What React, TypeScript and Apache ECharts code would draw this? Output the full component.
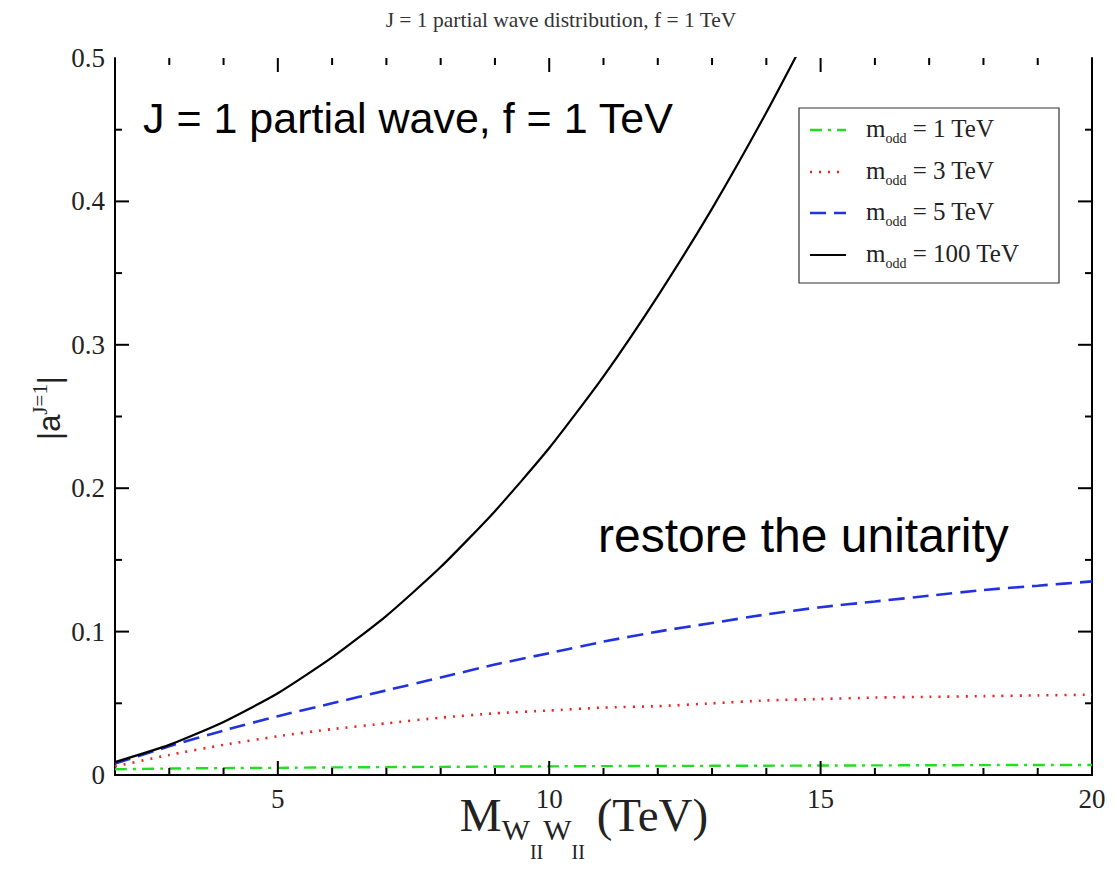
import React, { useEffect, useRef } from "react";
import * as echarts from "echarts";

const xValues = [2, 3, 4, 5, 6, 7, 8, 9, 10, 11, 12, 13, 14, 15, 16, 17, 18, 19, 20];
const m1Values = [0.004, 0.0045, 0.0048, 0.005, 0.0053, 0.0055, 0.0057, 0.0059, 0.006, 0.0062, 0.0063, 0.0064, 0.0065, 0.0066, 0.0067, 0.0068, 0.0069, 0.007, 0.007];
const m3Values = [0.006, 0.014, 0.021, 0.027, 0.032, 0.036, 0.04, 0.043, 0.045, 0.047, 0.048, 0.05, 0.052, 0.053, 0.054, 0.0545, 0.055, 0.0555, 0.056];
const m5Values = [0.008, 0.02, 0.031, 0.041, 0.05, 0.059, 0.068, 0.077, 0.085, 0.093, 0.1, 0.106, 0.112, 0.117, 0.121, 0.125, 0.129, 0.132, 0.135];
const m100X = [2, 3, 4, 5, 6, 7, 8, 9, 10, 11, 12, 13, 14, 15];
const m100Values = [0.009, 0.021, 0.037, 0.057, 0.082, 0.111, 0.145, 0.184, 0.228, 0.278, 0.334, 0.395, 0.462, 0.534];

const xTicks = [3, 4, 5, 6, 7, 8, 9, 10, 11, 12, 13, 14, 15, 16, 17, 18, 19];
const xMajorTicks = [5, 10, 15, 20];
const yTicks = [0.05, 0.1, 0.15, 0.2, 0.25, 0.3, 0.35, 0.4, 0.45];
const yMajorTicks = [0, 0.1, 0.2, 0.3, 0.4, 0.5];

const legendNames = ["1 TeV", "3 TeV", "5 TeV", "100 TeV"];
const titleText = "J = 1 partial wave distribution, f = 1 TeV";
const note1 = "J = 1 partial wave, f = 1 TeV";
const note2 = "restore the unitarity";

const SERIF = "'Liberation Serif', 'DejaVu Serif', serif";
const SANS = "'Liberation Sans', Arial, sans-serif";

const seriesStyles = [
  { color: "#22dd22", dash: [12, 6, 3, 6], width: 2.4 },
  { color: "#ee2222", dash: [2, 7], width: 2.6 },
  { color: "#2233dd", dash: [16, 8], width: 2.6 },
  { color: "#000000", dash: "solid" as any, width: 2.2 },
];

function zip(xs: number[], ys: number[]) {
  return ys.map((y, i) => [xs[i], y]);
}

function isMajor(list: number[], v: number) {
  return list.some((m) => Math.abs(m - v) < 1e-9);
}

export default function App() {
  const ref = useRef<HTMLDivElement>(null);
  useEffect(() => {
    document.body.style.margin = "0";
    const chart = echarts.init(ref.current!, null, { renderer: "svg" });
    const dataSets = [zip(xValues, m1Values), zip(xValues, m3Values), zip(xValues, m5Values), zip(m100X, m100Values)];
    const left = 115, top = 58, right = 1092, bottom = 775;

    const baseX = {
      type: "value" as const,
      min: 2,
      max: 20,
      interval: 1,
      splitLine: { show: false },
      axisTick: { show: false },
    };
    const baseY = {
      type: "value" as const,
      min: 0,
      max: 0.5,
      interval: 0.1,
      splitLine: { show: false },
      axisTick: { show: false },
      minorTick: { show: false },
    };

    const legendRows = [130, 172, 213, 255];
    const legendGraphics: any[] = [
      {
        type: "rect",
        shape: { x: 799, y: 108, width: 260, height: 175 },
        style: { fill: "#fff", stroke: "#333", lineWidth: 1.2 },
        z: 100,
      },
    ];
    legendRows.forEach((y, i) => {
      legendGraphics.push({
        type: "line",
        shape: { x1: 810, y1: y, x2: 846, y2: y },
        style: {
          stroke: seriesStyles[i].color,
          lineWidth: seriesStyles[i].width,
          lineDash: seriesStyles[i].dash === "solid" ? null : seriesStyles[i].dash,
        },
        z: 101,
      });
      legendGraphics.push({
        type: "text",
        x: 866,
        y: y - 14,
        z: 101,
        style: {
          text: `{m|m}{s|odd}{t| = ${legendNames[i]}}`,
          rich: {
            m: { fontFamily: SERIF, fontSize: 25, lineHeight: 25, verticalAlign: "top", fill: "#222" },
            s: { fontFamily: SERIF, fontSize: 14, lineHeight: 14, padding: [15, 0, 0, 0], verticalAlign: "top", fill: "#222" },
            t: { fontFamily: SERIF, fontSize: 25, lineHeight: 25, verticalAlign: "top", fill: "#222" },
          },
        },
      });
    });

    const textGraphics: any[] = [
      {
        type: "text",
        x: 143,
        y: 96,
        style: { text: note1, fontFamily: SANS, fontSize: 43, fill: "#000" },
      },
      {
        type: "text",
        x: 598,
        y: 511,
        style: { text: note2, fontFamily: SANS, fontSize: 48, fill: "#000" },
      },
      {
        type: "text",
        x: 47,
        y: 408,
        rotation: Math.PI / 2,
        style: {
          text: "{a||a}{s|J=1}{b||}",
          align: "center",
          verticalAlign: "middle",
          rich: {
            a: { fontFamily: SANS, fontSize: 31, lineHeight: 36, verticalAlign: "bottom", fill: "#222" },
            s: { fontFamily: SERIF, fontSize: 21, lineHeight: 36, verticalAlign: "top", fill: "#222" },
            b: { fontFamily: SANS, fontSize: 31, lineHeight: 36, verticalAlign: "bottom", fill: "#222" },
          },
        },
      },
      {
        type: "text",
        x: 584,
        y: 791,
        style: {
          text: "{m|M}{w|W}{i|II}{w|W}{i|II}{m| (TeV)}",
          align: "center",
          rich: {
            m: { fontFamily: SERIF, fontSize: 47, lineHeight: 46, verticalAlign: "top", fill: "#222" },
            w: { fontFamily: SERIF, fontSize: 30, lineHeight: 30, padding: [23, 0, 0, 0], verticalAlign: "top", fill: "#222" },
            i: { fontFamily: SERIF, fontSize: 20, lineHeight: 20, padding: [51, 0, 0, 0], verticalAlign: "top", fill: "#222" },
          },
        },
      },
      ...legendGraphics,
    ];

    chart.setOption({
      animation: false,
      backgroundColor: "#fff",
      grid: { left, top, width: right - left, height: bottom - top },
      title: {
        text: titleText,
        left: 556,
        textAlign: "center",
        top: 4,
        textStyle: { fontFamily: SERIF, fontSize: 21.5, fontWeight: "normal", color: "#333" },
      },
      xAxis: [
        {
          ...baseX,
          position: "bottom",
          axisLine: { show: true, lineStyle: { color: "#000", width: 2 } },
          axisLabel: {
            show: true,
            fontFamily: SERIF,
            fontSize: 27,
            color: "#222",
            margin: 10,
            formatter: (v: number) => (isMajor(xMajorTicks, v) ? String(v) : ""),
          },
        },
        {
          ...baseX,
          position: "top",
          axisLine: { show: true, lineStyle: { color: "#000", width: 2 } },
          axisLabel: { show: false },
        },
      ],
      yAxis: [
        {
          ...baseY,
          position: "left",
          axisLine: { show: true, lineStyle: { color: "#000", width: 2 } },
          axisLabel: { show: true, fontFamily: SERIF, fontSize: 27, color: "#222", margin: 10 },
        },
        {
          ...baseY,
          position: "right",
          axisLine: { show: true, lineStyle: { color: "#000", width: 2 } },
          axisLabel: { show: false },
        },
      ],
      series: dataSets.map((d, i) => ({
        type: "line",
        name: legendNames[i],
        xAxisIndex: 0,
        yAxisIndex: 0,
        data: d,
        showSymbol: false,
        symbol: "none",
        smooth: 0.2,
        clip: true,
        lineStyle: { color: seriesStyles[i].color, width: seriesStyles[i].width, type: seriesStyles[i].dash },
        z: i === 3 ? 5 : 3,
      })),
      graphic: textGraphics,
    });

    // Inward tick marks on all four sides, positioned through the chart's own scales
    const finder = { xAxisIndex: 0, yAxisIndex: 0 };
    const toPx = (p: number[]) => chart.convertToPixel(finder as any, p) as number[];
    const tickGraphics: any[] = [];
    const tickStyle = { fill: "#000" };
    xTicks.forEach((v) => {
      const len = isMajor(xMajorTicks, v) ? 14 : 7;
      const pb = toPx([v, 0]);
      const pt = toPx([v, 0.5]);
      tickGraphics.push({ type: "rect", z: 50, shape: { x: pb[0] - 1, y: pb[1] - len, width: 2, height: len }, style: tickStyle });
      tickGraphics.push({ type: "rect", z: 50, shape: { x: pt[0] - 1, y: pt[1], width: 2, height: len }, style: tickStyle });
    });
    yTicks.forEach((v) => {
      const len = isMajor(yMajorTicks, v) ? 14 : 7;
      const pl = toPx([2, v]);
      const pr = toPx([20, v]);
      tickGraphics.push({ type: "rect", z: 50, shape: { x: pl[0], y: pl[1] - 1, width: len, height: 2 }, style: tickStyle });
      tickGraphics.push({ type: "rect", z: 50, shape: { x: pr[0] - len, y: pr[1] - 1, width: len, height: 2 }, style: tickStyle });
    });
    chart.setOption({ graphic: [...textGraphics, ...tickGraphics] }, { replaceMerge: ["graphic"] } as any);

    return () => chart.dispose();
  }, []);
  return <div ref={ref} style={{ width: 1115, height: 874 }} />;
}
